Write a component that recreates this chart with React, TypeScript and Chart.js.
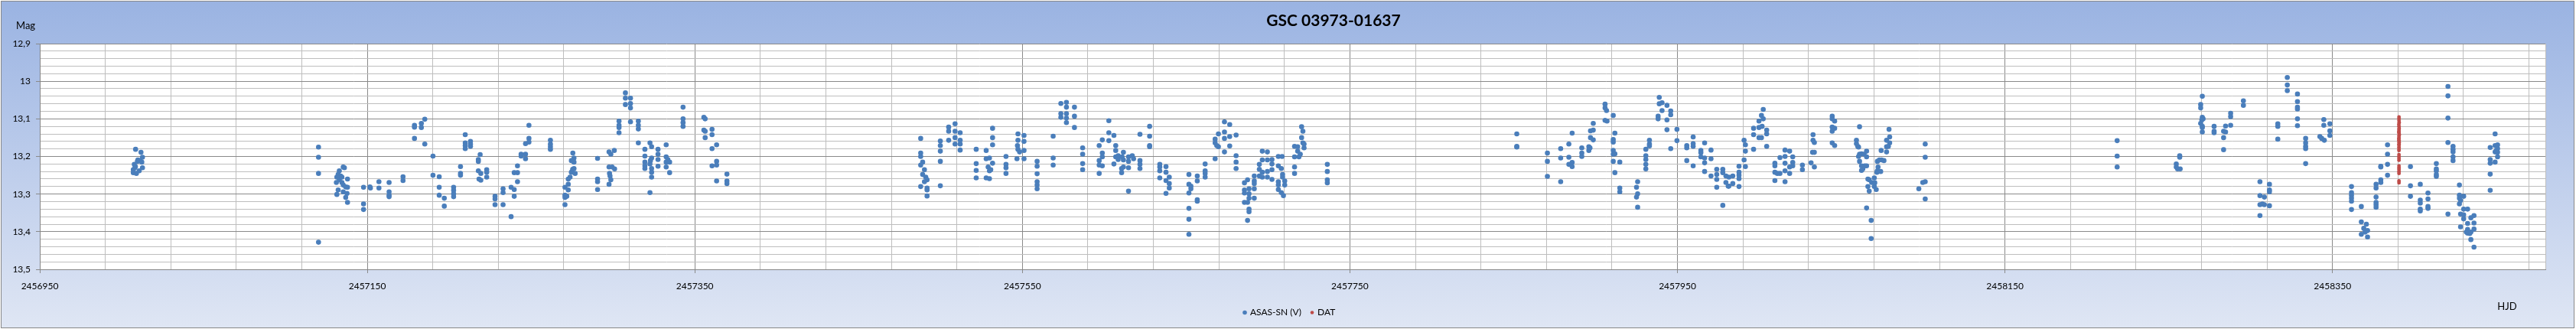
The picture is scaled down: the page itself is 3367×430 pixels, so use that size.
import React, { useEffect, useRef } from 'react';
import { Chart, registerables } from 'chart.js';

Chart.register(...registerables);

// ---- chart texts ----
const TITLE = 'GSC 03973-01637';
const Y_TITLE = 'Mag';
const X_TITLE = 'HJD';
const SERIES_ASAS = 'ASAS-SN (V)';
const SERIES_DAT = 'DAT';

// ---- axes ----
const X_MIN = 2456950;
const X_MAX = 2458480;
const X_MINOR_STEP = 40;
const X_MAJOR_STEP = 200;
const Y_MIN = 12.9;
const Y_MAX = 13.5;
const Y_MINOR_STEPS = 30; // 0.02 mag
const Y_MAJOR_EVERY = 5; // every 0.1 mag

// ---- data: [HJD - HJD_ZERO, magnitude] ----
const HJD_ZERO = 2456950;

const asas2014: [number, number][] = [
  [58.5, 13.181], [61.8, 13.189], [62.7, 13.202], [59.9, 13.209], [61.2, 13.211],
  [62.3, 13.215], [57.7, 13.221], [58.1, 13.23], [62.7, 13.23], [57.1, 13.235],
  [57.1, 13.243], [59.0, 13.245], [60.7, 13.238], [59.6, 13.213], [58.4, 13.227],
];

const asas2015: [number, number][] = [
  [170.2, 13.175], [170.2, 13.202], [170.2, 13.245], [170.2, 13.428],
  [185.3, 13.228], [186.0, 13.23], [182.9, 13.238], [182.2, 13.248], [183.7, 13.252],
  [181.4, 13.255], [187.9, 13.26], [181.1, 13.269], [184.5, 13.269], [185.3, 13.276],
  [186.8, 13.281], [187.9, 13.282], [182.2, 13.289], [181.4, 13.301], [185.3, 13.294],
  [187.6, 13.298], [186.8, 13.309], [187.9, 13.322], [182.9, 13.262], [184.5, 13.255],
  [197.7, 13.282], [197.7, 13.326], [197.7, 13.341], [201.6, 13.281], [201.9, 13.284],
  [207.1, 13.267], [207.1, 13.284], [213.3, 13.269], [213.3, 13.294], [213.3, 13.303],
  [213.3, 13.307], [221.8, 13.254], [221.8, 13.264], [228.8, 13.117], [228.8, 13.122],
  [233.0, 13.112], [233.0, 13.123], [235.1, 13.101], [228.8, 13.152], [235.1, 13.167],
  [240.1, 13.199], [240.1, 13.25], [243.9, 13.254], [243.9, 13.282], [243.9, 13.303],
  [247.0, 13.311], [247.0, 13.332], [252.7, 13.282], [252.7, 13.29], [252.7, 13.299],
  [252.7, 13.307], [256.9, 13.227], [256.9, 13.245], [256.9, 13.25], [259.8, 13.142],
  [259.8, 13.164], [259.8, 13.171], [259.8, 13.179], [263.0, 13.16], [263.0, 13.167],
  [263.0, 13.173], [268.9, 13.195], [267.8, 13.208], [267.8, 13.213], [267.8, 13.238],
  [269.3, 13.245], [268.2, 13.26], [269.3, 13.263], [272.9, 13.235], [272.9, 13.242],
  [272.9, 13.255], [278.0, 13.306], [278.0, 13.313], [278.0, 13.328], [282.9, 13.286],
  [282.9, 13.296], [282.9, 13.328], [287.8, 13.282], [289.7, 13.288], [289.7, 13.306],
  [287.8, 13.36], [291.7, 13.225], [291.7, 13.243], [289.7, 13.243], [291.7, 13.267],
  [293.9, 13.194], [296.6, 13.194], [293.9, 13.199], [296.6, 13.206], [296.6, 13.166],
  [298.7, 13.152], [298.7, 13.162], [298.7, 13.117], [311.8, 13.157], [311.8, 13.167],
  [311.8, 13.174], [311.8, 13.181], [320.7, 13.282], [320.7, 13.303], [320.7, 13.309],
  [320.7, 13.328], [321.8, 13.306], [322.7, 13.289], [322.7, 13.274], [322.7, 13.26],
  [324.6, 13.242], [325.4, 13.234], [326.2, 13.232], [326.2, 13.215], [326.2, 13.204],
  [325.5, 13.191], [324.6, 13.211], [326.9, 13.245], [323.8, 13.255], [340.6, 13.205],
  [340.6, 13.26], [340.6, 13.267], [340.6, 13.288], [347.6, 13.188], [348.7, 13.194],
  [350.8, 13.184], [347.6, 13.228], [349.5, 13.228], [351.0, 13.233], [347.9, 13.245],
  [348.2, 13.252], [348.7, 13.262], [347.6, 13.274], [353.7, 13.106], [353.7, 13.117],
  [353.7, 13.123], [353.7, 13.137], [357.6, 13.031], [357.6, 13.045], [357.6, 13.062],
  [360.7, 13.045], [360.7, 13.059], [360.7, 13.071], [360.7, 13.108], [365.5, 13.106],
  [365.5, 13.117], [365.5, 13.127], [365.5, 13.164], [369.5, 13.181], [369.5, 13.199],
  [369.5, 13.215], [369.5, 13.225], [369.5, 13.232], [372.6, 13.164], [373.6, 13.174],
  [372.9, 13.211], [373.6, 13.204], [372.6, 13.22], [373.6, 13.232], [373.6, 13.242],
  [373.6, 13.255], [372.6, 13.296], [377.5, 13.181], [377.5, 13.194], [377.5, 13.208],
  [377.5, 13.226], [382.5, 13.169], [382.5, 13.201], [382.5, 13.215], [383.5, 13.208],
  [384.6, 13.215], [382.5, 13.228], [384.6, 13.243], [392.8, 13.069], [392.8, 13.1],
  [392.8, 13.11], [392.8, 13.12], [405.5, 13.096], [406.3, 13.1], [405.5, 13.13],
  [406.3, 13.133], [406.3, 13.15], [410.5, 13.128], [410.5, 13.142], [413.3, 13.169],
  [410.5, 13.179], [410.5, 13.225], [413.3, 13.213], [413.3, 13.223], [413.3, 13.265],
  [419.6, 13.247], [419.6, 13.265], [419.6, 13.272],
];

const asas2016: [number, number][] = [
  [537.9, 13.152], [537.9, 13.191], [537.9, 13.2], [537.9, 13.223], [539.1, 13.215],
  [540.2, 13.235], [539.1, 13.248], [541.0, 13.255], [541.8, 13.262], [540.2, 13.267],
  [537.9, 13.28], [541.8, 13.284], [541.8, 13.289], [541.8, 13.305], [549.9, 13.159],
  [549.9, 13.171], [549.9, 13.186], [549.9, 13.213], [549.9, 13.278], [555.0, 13.122],
  [555.0, 13.133], [555.0, 13.157], [558.9, 13.113], [558.9, 13.133], [558.9, 13.15],
  [558.9, 13.167], [562.0, 13.137], [562.0, 13.157], [562.0, 13.167], [562.0, 13.183],
  [571.8, 13.181], [571.8, 13.219], [571.8, 13.237], [571.8, 13.257], [577.9, 13.184],
  [577.9, 13.206], [579.9, 13.204], [579.1, 13.228], [580.7, 13.235], [579.9, 13.238],
  [581.8, 13.218], [577.9, 13.257], [579.9, 13.259], [581.8, 13.125], [581.8, 13.15],
  [581.8, 13.169], [590.0, 13.2], [590.0, 13.221], [590.0, 13.23], [590.0, 13.245],
  [597.3, 13.14], [597.3, 13.157], [597.0, 13.171], [597.3, 13.181], [598.3, 13.188],
  [596.7, 13.206], [601.0, 13.144], [601.0, 13.16], [601.0, 13.184], [601.0, 13.206],
  [609.0, 13.213], [609.0, 13.226], [609.0, 13.246], [609.0, 13.267], [609.0, 13.276],
  [609.0, 13.286], [618.8, 13.146], [618.8, 13.204], [618.8, 13.223], [623.5, 13.059],
  [623.5, 13.086], [623.5, 13.096], [626.9, 13.056], [626.9, 13.069], [626.9, 13.086],
  [626.9, 13.098], [626.9, 13.11], [631.8, 13.069], [631.8, 13.093], [631.8, 13.123],
  [636.8, 13.177], [636.8, 13.194], [636.8, 13.219], [636.8, 13.235], [646.9, 13.171],
  [646.9, 13.211], [646.9, 13.223], [646.9, 13.245], [648.8, 13.156], [648.8, 13.191],
  [648.8, 13.201], [648.8, 13.225], [652.8, 13.105], [652.8, 13.137], [652.8, 13.158],
  [655.9, 13.144], [655.9, 13.22], [657.0, 13.171], [657.0, 13.184], [657.0, 13.201],
  [658.5, 13.198], [658.5, 13.208], [660.9, 13.201], [661.7, 13.189], [661.7, 13.209],
  [664.8, 13.201], [664.8, 13.213], [667.1, 13.198], [667.9, 13.206], [660.6, 13.232],
  [660.6, 13.243], [661.7, 13.228], [664.8, 13.23], [664.8, 13.292], [671.8, 13.141],
  [671.8, 13.211], [671.8, 13.221], [671.8, 13.232], [677.7, 13.12], [677.7, 13.146],
  [677.7, 13.171], [677.7, 13.174], [683.9, 13.221], [683.9, 13.228], [683.9, 13.238],
  [683.9, 13.257], [687.7, 13.227], [687.7, 13.242], [687.7, 13.264], [687.7, 13.298],
  [689.7, 13.255], [689.7, 13.272], [689.7, 13.284], [701.7, 13.248], [701.7, 13.274],
  [702.9, 13.279], [702.9, 13.286], [701.7, 13.297], [701.7, 13.338], [701.7, 13.367],
  [701.7, 13.407], [706.8, 13.252], [706.8, 13.265], [706.8, 13.315], [706.8, 13.319],
  [711.6, 13.22], [711.6, 13.238], [711.6, 13.245], [711.6, 13.255], [717.7, 13.154],
  [717.7, 13.164], [717.7, 13.206], [719.7, 13.14], [719.7, 13.174], [718.7, 13.171],
  [723.4, 13.108], [723.4, 13.135], [723.4, 13.152], [723.4, 13.188], [726.6, 13.115],
  [726.6, 13.147], [726.6, 13.172], [730.5, 13.143], [730.5, 13.198], [730.5, 13.215],
  [730.5, 13.232], [735.6, 13.27], [735.6, 13.289], [735.6, 13.297], [735.6, 13.322],
  [737.5, 13.262], [738.4, 13.286], [738.4, 13.299], [737.5, 13.322], [738.4, 13.311],
  [738.4, 13.34], [738.4, 13.347], [737.5, 13.37], [741.6, 13.252], [741.6, 13.265],
  [741.6, 13.272], [741.6, 13.286], [741.6, 13.311], [744.7, 13.221], [744.7, 13.234],
  [744.7, 13.252], [746.5, 13.186], [746.5, 13.209], [746.5, 13.242], [746.5, 13.255],
  [749.6, 13.188], [749.6, 13.209], [749.6, 13.24], [749.6, 13.255], [752.4, 13.208],
  [752.4, 13.22], [752.4, 13.235], [752.4, 13.261], [756.3, 13.2], [756.3, 13.225],
  [756.3, 13.267], [756.3, 13.276], [756.3, 13.288], [758.6, 13.2], [758.1, 13.232],
  [758.9, 13.248], [758.9, 13.255], [760.2, 13.265], [760.2, 13.276], [758.1, 13.296],
  [759.4, 13.304], [766.2, 13.173], [766.2, 13.201], [766.2, 13.228], [766.2, 13.245],
  [768.1, 13.174], [768.1, 13.186], [768.9, 13.201], [769.7, 13.194], [770.5, 13.121],
  [771.3, 13.133], [770.5, 13.15], [771.3, 13.164], [772.0, 13.167], [772.0, 13.177],
  [786.2, 13.221], [786.2, 13.24], [786.2, 13.262], [786.2, 13.27],
];

const asas2017: [number, number][] = [
  [901.9, 13.14], [901.9, 13.173], [901.9, 13.175], [920.6, 13.191], [920.6, 13.213],
  [920.6, 13.253], [928.7, 13.179], [928.7, 13.204], [928.7, 13.267], [933.7, 13.167],
  [933.7, 13.202], [933.7, 13.221], [935.7, 13.216], [935.7, 13.227], [935.7, 13.138],
  [941.6, 13.177], [941.6, 13.191], [941.6, 13.2], [945.9, 13.174], [945.9, 13.184],
  [946.6, 13.177], [946.9, 13.132], [948.6, 13.13], [948.6, 13.112], [946.9, 13.15],
  [948.6, 13.156], [955.8, 13.061], [955.8, 13.071], [956.7, 13.078], [955.8, 13.104],
  [957.0, 13.106], [960.8, 13.091], [961.8, 13.138], [960.8, 13.155], [960.8, 13.162],
  [960.8, 13.184], [960.8, 13.194], [961.8, 13.193], [960.8, 13.213], [964.8, 13.215],
  [961.8, 13.243], [964.8, 13.284], [964.8, 13.294], [975.0, 13.282], [975.7, 13.267],
  [975.7, 13.299], [975.0, 13.308], [975.7, 13.335], [980.7, 13.181], [980.7, 13.198],
  [980.7, 13.208], [980.7, 13.221], [980.7, 13.233], [982.9, 13.157], [982.9, 13.167],
  [982.9, 13.172], [988.2, 13.093], [988.2, 13.1], [988.9, 13.043], [988.9, 13.06],
  [990.6, 13.057], [990.6, 13.078], [993.6, 13.064], [995.9, 13.079], [995.9, 13.089],
  [993.6, 13.103], [993.6, 13.129], [995.9, 13.179], [999.7, 13.128], [999.7, 13.158],
  [1005.7, 13.171], [1005.7, 13.177], [1005.7, 13.211], [1009.6, 13.148], [1009.6, 13.166],
  [1009.6, 13.173], [1009.6, 13.225], [1014.3, 13.184], [1014.3, 13.19], [1014.3, 13.201],
  [1016.6, 13.164], [1016.6, 13.204], [1016.6, 13.217], [1016.6, 13.24], [1020.5, 13.183],
  [1020.5, 13.206], [1020.5, 13.252], [1024.0, 13.234], [1024.0, 13.248], [1024.0, 13.261],
  [1024.0, 13.282], [1027.7, 13.234], [1027.7, 13.243], [1029.6, 13.252], [1029.6, 13.269],
  [1031.4, 13.255], [1031.4, 13.279], [1033.8, 13.252], [1033.8, 13.272], [1031.0, 13.279],
  [1027.7, 13.33], [1037.6, 13.226], [1037.6, 13.242], [1037.6, 13.25], [1037.6, 13.259],
  [1037.6, 13.28], [1040.7, 13.157], [1041.5, 13.169], [1041.5, 13.186], [1040.7, 13.209],
  [1041.5, 13.227], [1046.5, 13.125], [1046.5, 13.142], [1046.5, 13.181], [1049.8, 13.106],
  [1049.8, 13.123], [1049.8, 13.15], [1051.3, 13.091], [1051.3, 13.15], [1052.4, 13.075],
  [1052.4, 13.1], [1051.7, 13.12], [1054.5, 13.13], [1054.5, 13.14], [1054.5, 13.173],
  [1059.5, 13.218], [1059.5, 13.225], [1059.5, 13.242], [1059.5, 13.264], [1061.0, 13.245],
  [1062.6, 13.245], [1062.6, 13.203], [1065.7, 13.183], [1065.7, 13.2], [1065.7, 13.218],
  [1065.7, 13.238], [1065.7, 13.267], [1068.5, 13.186], [1068.5, 13.228], [1068.5, 13.245],
  [1070.4, 13.201], [1070.4, 13.216], [1070.4, 13.225], [1076.3, 13.223], [1076.3, 13.235],
  [1081.6, 13.217], [1082.8, 13.142], [1082.8, 13.157], [1083.6, 13.163], [1082.5, 13.189],
  [1083.6, 13.189], [1083.6, 13.228], [1094.5, 13.093], [1094.5, 13.1], [1096.0, 13.106],
  [1094.5, 13.122], [1096.0, 13.125], [1094.5, 13.133], [1094.5, 13.164], [1096.0, 13.171],
  [1111.2, 13.121], [1109.3, 13.157], [1109.3, 13.166], [1110.1, 13.173], [1110.6, 13.175],
  [1111.2, 13.194], [1112.4, 13.193], [1114.0, 13.194], [1110.6, 13.2], [1115.5, 13.186],
  [1115.5, 13.201], [1111.2, 13.213], [1112.4, 13.225], [1113.2, 13.233], [1112.4, 13.237],
  [1114.3, 13.225], [1115.5, 13.225], [1116.3, 13.26], [1117.1, 13.262], [1118.6, 13.269],
  [1120.2, 13.257], [1120.5, 13.27], [1116.3, 13.28], [1117.1, 13.292], [1120.2, 13.28],
  [1121.4, 13.288], [1115.5, 13.337], [1118.3, 13.37], [1118.3, 13.418], [1124.4, 13.184],
  [1127.7, 13.157], [1127.7, 13.174], [1127.7, 13.188], [1129.2, 13.128], [1129.6, 13.148],
  [1129.6, 13.164], [1128.8, 13.173], [1122.1, 13.213], [1123.3, 13.209], [1124.6, 13.209],
  [1126.1, 13.211], [1122.5, 13.228], [1122.1, 13.238], [1121.8, 13.242], [1124.1, 13.24],
  [1151.3, 13.167], [1151.3, 13.202], [1151.3, 13.267], [1149.8, 13.269], [1147.4, 13.286],
  [1151.3, 13.313],
];

const asas2018: [number, number][] = [
  [1268.5, 13.158], [1268.5, 13.199], [1268.5, 13.228], [1306.7, 13.198], [1306.7, 13.202],
  [1304.6, 13.22], [1304.6, 13.228], [1305.4, 13.233], [1307.0, 13.233], [1320.5, 13.04],
  [1319.5, 13.062], [1319.5, 13.071], [1320.5, 13.096], [1321.0, 13.1], [1320.2, 13.103],
  [1319.5, 13.112], [1320.5, 13.12], [1320.5, 13.123], [1320.5, 13.135], [1327.7, 13.12],
  [1327.7, 13.133], [1327.7, 13.137], [1333.5, 13.133], [1334.7, 13.119], [1334.7, 13.135],
  [1333.5, 13.15], [1333.5, 13.182], [1337.8, 13.085], [1337.8, 13.094], [1337.8, 13.117],
  [1345.6, 13.052], [1345.6, 13.064], [1355.7, 13.267], [1355.7, 13.304], [1355.7, 13.328],
  [1355.7, 13.357], [1358.4, 13.308], [1358.4, 13.328], [1357.2, 13.326], [1361.5, 13.274],
  [1361.5, 13.289], [1361.5, 13.294], [1361.5, 13.331], [1366.6, 13.113], [1366.6, 13.12],
  [1366.6, 13.154], [1372.4, 12.99], [1372.4, 13.01], [1372.4, 13.025], [1378.6, 13.034],
  [1378.6, 13.054], [1378.6, 13.069], [1378.6, 13.074], [1378.6, 13.1], [1378.6, 13.118],
  [1383.6, 13.152], [1383.6, 13.164], [1383.6, 13.173], [1383.6, 13.179], [1383.6, 13.219],
  [1392.3, 13.147], [1393.4, 13.152], [1395.0, 13.157], [1394.7, 13.102], [1394.7, 13.117],
  [1398.4, 13.113], [1398.4, 13.132], [1398.4, 13.144], [1411.6, 13.28], [1411.6, 13.296],
  [1411.6, 13.303], [1411.6, 13.311], [1411.6, 13.319], [1411.6, 13.341], [1417.6, 13.333],
  [1417.6, 13.374], [1419.1, 13.391], [1420.7, 13.38], [1421.4, 13.397], [1417.6, 13.407],
  [1421.4, 13.414], [1419.9, 13.401], [1426.6, 13.274], [1426.6, 13.284], [1426.6, 13.308],
  [1426.6, 13.322], [1426.6, 13.328], [1426.6, 13.335], [1429.5, 13.226], [1429.5, 13.228],
  [1429.5, 13.262], [1429.5, 13.269], [1433.6, 13.169], [1433.6, 13.194], [1433.6, 13.221],
  [1433.6, 13.25], [1447.6, 13.227], [1447.6, 13.278], [1447.6, 13.306], [1453.6, 13.274],
  [1453.6, 13.316], [1453.6, 13.324], [1453.6, 13.34], [1453.6, 13.345], [1458.3, 13.297],
  [1458.3, 13.313], [1458.3, 13.333], [1458.3, 13.338], [1463.4, 13.219], [1463.4, 13.233],
  [1463.4, 13.238], [1463.4, 13.248], [1463.4, 13.253], [1470.5, 13.014], [1470.5, 13.039],
  [1470.5, 13.098], [1470.5, 13.163], [1470.5, 13.353], [1473.6, 13.173], [1473.6, 13.181],
  [1473.6, 13.188], [1473.6, 13.201], [1473.6, 13.211], [1477.5, 13.276], [1477.5, 13.303],
  [1477.5, 13.311], [1477.5, 13.326], [1480.1, 13.306], [1478.2, 13.317], [1478.2, 13.353],
  [1480.1, 13.355], [1480.1, 13.366], [1480.1, 13.34], [1482.5, 13.34], [1478.2, 13.387],
  [1482.5, 13.378], [1482.5, 13.394], [1482.5, 13.404], [1484.5, 13.363], [1484.5, 13.401],
  [1484.5, 13.421], [1486.4, 13.357], [1486.4, 13.377], [1486.4, 13.393], [1486.4, 13.441],
  [1483.8, 13.405], [1481.7, 13.401], [1496.3, 13.176], [1496.3, 13.208], [1496.3, 13.218],
  [1496.3, 13.247], [1496.3, 13.29], [1499.3, 13.14], [1499.3, 13.171], [1499.3, 13.188],
  [1499.3, 13.215], [1500.8, 13.169], [1500.8, 13.179], [1500.8, 13.189], [1500.8, 13.201],
  [1500.1, 13.184],
];

const datPoints: [number, number][] = [
  [1440.6, 13.095], [1440.6, 13.1], [1440.6, 13.105], [1440.7, 13.11], [1440.5, 13.115],
  [1440.6, 13.12], [1440.7, 13.125], [1440.6, 13.128], [1440.6, 13.132], [1440.5, 13.135],
  [1440.6, 13.138], [1440.8, 13.142], [1440.6, 13.145], [1440.6, 13.15], [1440.5, 13.153],
  [1440.6, 13.157], [1440.6, 13.16], [1440.7, 13.163], [1440.6, 13.167], [1440.6, 13.17],
  [1440.6, 13.175], [1440.6, 13.18], [1440.6, 13.184], [1440.6, 13.195], [1440.6, 13.2],
  [1440.6, 13.205], [1440.6, 13.21], [1440.6, 13.225], [1440.6, 13.23], [1440.6, 13.235],
  [1440.6, 13.24], [1440.6, 13.245], [1440.6, 13.265], [1440.6, 13.27],
];

// ---- styles ----
const BLUE = '#4A7EBB';
const RED = '#BE4B48';
const GRID_MINOR = '#BEBEBE';
const GRID_MAJOR = '#8A8A8A';
const FONT = 'Lato, "Open Sans", sans-serif';
const W = 3367;
const H = 430;

const toXY = (arr: [number, number][]) => arr.map(([d, m]) => ({ x: HJD_ZERO + d, y: m }));

const xTickValues: number[] = [];
for (let v = X_MIN; v <= X_MAX; v += X_MINOR_STEP) xTickValues.push(v);
const isXMajor = (v: number) => (v - X_MIN) % X_MAJOR_STEP === 0;

const yTickValues: number[] = [];
for (let i = 0; i <= Y_MINOR_STEPS; i++) yTickValues.push(Math.round((Y_MIN + ((Y_MAX - Y_MIN) * i) / Y_MINOR_STEPS) * 1000) / 1000);
const isYMajor = (idx: number) => idx % Y_MAJOR_EVERY === 0;

const decorPlugin = {
  id: 'decor',
  beforeDraw(chart: any) {
    const { ctx, chartArea } = chart;
    ctx.save();
    ctx.fillStyle = '#FFFFFF';
    ctx.fillRect(0, 0, W, H);
    const g = ctx.createLinearGradient(0, 1, 0, 428);
    g.addColorStop(0, '#9AB3E2');
    g.addColorStop(1, '#DFE6F4');
    ctx.fillStyle = g;
    ctx.fillRect(1, 1, 3364, 427);
    ctx.strokeStyle = '#888888';
    ctx.lineWidth = 1;
    ctx.strokeRect(1.5, 1.5, 3363, 427);
    ctx.fillStyle = '#FFFFFF';
    ctx.fillRect(chartArea.left, chartArea.top, chartArea.right - chartArea.left, chartArea.bottom - chartArea.top);
    ctx.restore();
  },
  beforeDatasetsDraw(chart: any) {
    const { ctx, chartArea } = chart;
    ctx.save();
    ctx.strokeStyle = GRID_MINOR;
    ctx.lineWidth = 1;
    const x = Math.round(chartArea.right) + 0.5;
    ctx.beginPath();
    ctx.moveTo(x, chartArea.top);
    ctx.lineTo(x, chartArea.bottom);
    ctx.stroke();
    ctx.restore();
  },
  afterDraw(chart: any) {
    const { ctx } = chart;
    ctx.save();
    ctx.fillStyle = '#000000';
    ctx.textBaseline = 'middle';
    ctx.font = `bold 21px ${FONT}`;
    ctx.textAlign = 'center';
    ctx.fillText(TITLE, 1743, 27);
    ctx.font = `13px ${FONT}`;
    ctx.textAlign = 'left';
    ctx.fillText(Y_TITLE, 21, 34);
    ctx.textAlign = 'center';
    ctx.fillText(X_TITLE, 3277, 401);
    // legend
    ctx.font = `12px ${FONT}`;
    ctx.textAlign = 'left';
    ctx.fillStyle = BLUE;
    ctx.beginPath();
    ctx.arc(1627, 408.5, 2.8, 0, Math.PI * 2);
    ctx.fill();
    ctx.fillStyle = '#000000';
    ctx.fillText(SERIES_ASAS, 1634, 408.5);
    ctx.fillStyle = RED;
    ctx.beginPath();
    ctx.arc(1715, 408.5, 2.3, 0, Math.PI * 2);
    ctx.fill();
    ctx.fillStyle = '#000000';
    ctx.fillText(SERIES_DAT, 1722, 408.5);
    ctx.restore();
  },
};

export default function App() {
  const ref = useRef<HTMLCanvasElement | null>(null);
  useEffect(() => {
    document.body.style.margin = '0';
    const canvas = ref.current;
    if (!canvas) return;
    const chart = new Chart(canvas, {
      type: 'scatter',
      data: {
        datasets: [
          {
            label: SERIES_ASAS,
            data: [...toXY(asas2014), ...toXY(asas2015), ...toXY(asas2016), ...toXY(asas2017), ...toXY(asas2018)],
            backgroundColor: BLUE,
            borderColor: BLUE,
            pointRadius: 3.3,
            pointBorderWidth: 0,
          },
          {
            label: SERIES_DAT,
            data: toXY(datPoints),
            backgroundColor: RED,
            borderColor: RED,
            pointRadius: 2.4,
            pointBorderWidth: 0,
          },
        ],
      },
      options: {
        animation: false,
        responsive: false,
        devicePixelRatio: 1,
        events: [],
        layout: { padding: { top: 57, right: 40, left: 0, bottom: 0 } },
        plugins: { legend: { display: false }, title: { display: false }, tooltip: { enabled: false } },
        scales: {
          x: {
            type: 'linear',
            min: X_MIN,
            max: X_MAX,
            afterBuildTicks: (scale: any) => {
              scale.ticks = xTickValues.map((v) => ({ value: v }));
            },
            afterFit: (scale: any) => {
              scale.height = 78;
            },
            ticks: {
              autoSkip: false,
              maxRotation: 0,
              minRotation: 0,
              padding: 10,
              color: '#000000',
              font: { family: FONT, size: 12 },
              callback: (v: any) => (isXMajor(Number(v)) ? String(v) : ''),
            },
            grid: {
              color: (c: any) => (c.tick && isXMajor(c.tick.value) ? GRID_MAJOR : GRID_MINOR),
              tickColor: (c: any) => (c.tick && isXMajor(c.tick.value) ? GRID_MAJOR : 'rgba(0,0,0,0)'),
              tickLength: 5,
              lineWidth: 1,
            },
            border: { display: true, color: '#868686', width: 1 },
          },
          y: {
            type: 'linear',
            reverse: true,
            min: Y_MIN,
            max: Y_MAX,
            afterBuildTicks: (scale: any) => {
              scale.ticks = yTickValues.map((v) => ({ value: v }));
            },
            afterFit: (scale: any) => {
              scale.width = 52;
            },
            ticks: {
              autoSkip: false,
              padding: 7,
              color: '#000000',
              font: { family: FONT, size: 12 },
              callback: (v: any, i: number) => (isYMajor(i) ? String(Math.round(Number(v) * 10) / 10).replace('.', ',') : ''),
            },
            grid: {
              color: (c: any) => (isYMajor(c.index) ? GRID_MAJOR : GRID_MINOR),
              tickColor: (c: any) => (isYMajor(c.index) ? GRID_MAJOR : 'rgba(0,0,0,0)'),
              tickLength: 5,
              lineWidth: 1,
            },
            border: { display: true, color: '#868686', width: 1 },
          },
        },
      },
      plugins: [decorPlugin],
    } as any);
    return () => chart.destroy();
  }, []);
  return (
    <canvas
      ref={ref}
      width={W}
      height={H}
      style={{ display: 'block', position: 'absolute', left: 0, top: 0, width: W, height: H }}
    />
  );
}
